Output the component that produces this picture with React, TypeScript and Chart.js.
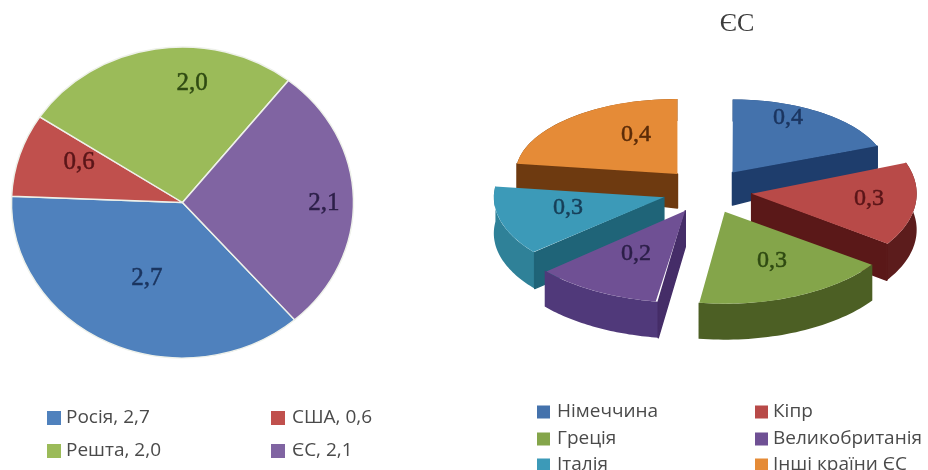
import React, { useEffect, useRef } from "react";
import { Chart, registerables } from "chart.js";

Chart.register(...registerables);

const worldLabels = ["Росія, 2,7", "США, 0,6", "Решта, 2,0", "ЄС, 2,1"];
const worldValues = [2.74, 0.64, 1.95, 2.07];
const worldValueText = ["2,7", "0,6", "2,0", "2,1"];
const worldColors = ["#4f81bd", "#c0504d", "#9bbb59", "#8064a2"];
const worldInk = ["#1b3560", "#5a1518", "#2f4a12", "#2c1f48"];
const worldLabelAnchors = [[-0.208, 0.447], [-0.605, -0.237], [0.056, -0.699], [0.827, 0.003]];

const euTitle = "ЄС";
const euLabels = ["Німеччина", "Кіпр", "Греція", "Великобританія", "Італія", "Інші країни ЄС"];
const euValues = [0.37, 0.3, 0.34, 0.22, 0.26, 0.44];
const euValueText = ["0,4", "0,3", "0,3", "0,2", "0,3", "0,4"];
const euColors = ["#4472ac", "#b84a48", "#84a54a", "#6f5094", "#3c9ab8", "#e58b37"];
const euOuterWalls = ["#2a4f80", "#5c1c1c", "#4c5f24", "#50397a", "#2f8198", "#7a4210"];
const euInnerWalls = ["#1e3d6c", "#5a1818", "#3f5020", "#452d68", "#1f6478", "#6e3a10"];
const euInk = ["#1b3560", "#5a1518", "#2f4a12", "#2c1f48", "#173f58", "#5c2c08"];
const euLabelAnchors = [[0.497, -0.448], [0.994, 0.049], [0.399, 0.429], [-0.436, 0.387], [-0.853, 0.104], [-0.436, -0.344]];
const euOffset = 180;
const euTilt = 0.5;
const euRimX = [155, 165, 180, 185, 170, 162];
const euRimY = [73, 88, 92, 92, 85, 75];

type LegendGrid = { xs: number[]; textXs: number[]; ys: number[]; box: number; font: string };

const ellipsePlugin = (k: number) => ({
  id: "ellipse",
  beforeDatasetsDraw(chart: any) {
    const arc = chart.getDatasetMeta(0).data[0];
    const ctx = chart.ctx;
    ctx.save();
    ctx.translate(arc.x, arc.y);
    ctx.scale(1, k);
    ctx.translate(-arc.x, -arc.y);
  },
  afterDatasetsDraw(chart: any) {
    chart.ctx.restore();
  },
});

const sliceGeometry = (a: any, i: number) => {
  const circ = a.endAngle - a.startAngle;
  const mid = (a.startAngle + a.endAngle) / 2;
  const off = euOffset / 4;
  const fix = 1 - Math.sin(Math.min(Math.PI, circ));
  const R = a.outerRadius + off * fix;
  const ax = a.x + Math.cos(mid) * off;
  const ay = a.y + Math.sin(mid) * off;
  const screenY = a.y + (ay - a.y) * euTilt;
  return { circ, mid, R, ax, ay, screenY, rx: euRimX[i], ry: euRimY[i] };
};

const depth = (y: number) => (y < 160 ? 22 : Math.min(36, 22 + (y - 160) * 0.85));

const tiltedSlicesPlugin = {
  id: "tiltedSlices",
  beforeDatasetsDraw(chart: any) {
    const ctx = chart.ctx;
    const arcs = chart.getDatasetMeta(0).data;
    const order = [5, 0, 4, 1, 3, 2];
    for (const i of order) {
      const a = arcs[i];
      const g = sliceGeometry(a, i);
      const pt = (t: number) => [g.ax + Math.cos(t) * g.rx, g.screenY + Math.sin(t) * g.ry];
      const apex = [g.ax, g.screenY];
      const steps = 40;
      const top: number[][] = [];
      for (let s = 0; s <= steps; s++) top.push(pt(a.startAngle + (g.circ * s) / steps));
      ctx.fillStyle = euOuterWalls[i];
      ctx.beginPath();
      top.forEach((p, n) => (n ? ctx.lineTo(p[0], p[1]) : ctx.moveTo(p[0], p[1])));
      [...top].reverse().forEach((p) => ctx.lineTo(p[0], p[1] + depth(p[1])));
      ctx.closePath();
      ctx.fill();
      const m = [Math.cos(g.mid) * g.rx, Math.sin(g.mid) * g.ry];
      for (const p of [top[0], top[steps]]) {
        const e = [p[0] - apex[0], p[1] - apex[1]];
        const downSide = e[0];
        const midSide = e[0] * m[1] - e[1] * m[0];
        if (downSide * midSide > 0 || Math.abs(downSide) < 3) continue;
        ctx.fillStyle = euInnerWalls[i];
        ctx.strokeStyle = euInnerWalls[i];
        ctx.lineWidth = 1.5;
        ctx.lineJoin = "round";
        ctx.beginPath();
        ctx.moveTo(apex[0], apex[1]);
        ctx.lineTo(p[0], p[1]);
        ctx.lineTo(p[0], p[1] + depth(p[1]));
        ctx.lineTo(apex[0], apex[1] + depth(apex[1]));
        ctx.closePath();
        ctx.fill();
        ctx.stroke();
      }
      if (!a.__tilted) {
        a.__tilted = true;
        const original = a.draw.bind(a);
        a.draw = (c: any, area: any) => {
          c.save();
          c.translate(g.ax, g.screenY);
          c.scale(g.rx / g.R, g.ry / g.R);
          c.translate(-g.ax, -g.ay);
          original(c, area);
          c.restore();
        };
      }
    }
  },
};

const valueTextPlugin = (texts: string[], inks: string[], anchors: number[][], reach: number, font: string) => ({
  id: "valueText",
  afterDraw(chart: any) {
    const ctx = chart.ctx;
    const arc = chart.getDatasetMeta(0).data[0];
    ctx.save();
    ctx.font = font;
    ctx.textAlign = "center";
    ctx.textBaseline = "middle";
    ctx.lineWidth = 0.5;
    texts.forEach((t, i) => {
      ctx.fillStyle = inks[i];
      ctx.strokeStyle = inks[i];
      ctx.fillText(t, arc.x + anchors[i][0] * reach, arc.y + anchors[i][1] * reach);
      ctx.strokeText(t, arc.x + anchors[i][0] * reach, arc.y + anchors[i][1] * reach);
    });
    ctx.restore();
  },
});

const gridLegendPlugin = (labels: string[], colors: string[], grid: LegendGrid) => ({
  id: "gridLegend",
  afterDraw(chart: any) {
    const ctx = chart.ctx;
    ctx.save();
    ctx.font = grid.font;
    ctx.textBaseline = "middle";
    ctx.textAlign = "left";
    labels.forEach((label, i) => {
      const col = i % 2;
      const y = grid.ys[Math.floor(i / 2)];
      ctx.fillStyle = colors[i];
      ctx.fillRect(grid.xs[col], y - grid.box / 2, grid.box, grid.box);
      ctx.fillStyle = "#4a4a4a";
      ctx.fillText(label, grid.textXs[col], y);
    });
    ctx.restore();
  },
});

const titlePlugin = {
  id: "euTitle",
  afterDraw(chart: any) {
    const ctx = chart.ctx;
    ctx.save();
    ctx.font = '26px "Liberation Serif"';
    ctx.fillStyle = "#3c3c3c";
    ctx.textAlign = "center";
    ctx.textBaseline = "middle";
    ctx.fillText(euTitle, chart.width - 191, 24);
    ctx.restore();
  },
};

export default function App() {
  const leftRef = useRef<HTMLCanvasElement>(null);
  const rightRef = useRef<HTMLCanvasElement>(null);

  useEffect(() => {
    const left = new Chart(leftRef.current!, {
      type: "pie",
      data: {
        labels: worldLabels,
        datasets: [{
          data: worldValues,
          backgroundColor: worldColors,
          borderColor: "#eef1ea",
          borderWidth: 1.5,
          clip: false,
        } as any],
      },
      options: {
        responsive: false,
        animation: false,
        events: [],
        rotation: 139,
        radius: 171,
        layout: { padding: { right: 99, bottom: 65 } },
        plugins: { legend: { display: false }, tooltip: { enabled: false } },
      } as any,
      plugins: [
        ellipsePlugin(155.5 / 171),
        valueTextPlugin(worldValueText, worldInk, worldLabelAnchors, 171, '25px "Liberation Serif"'),
        gridLegendPlugin(worldLabels, worldColors, {
          xs: [47, 271], textXs: [66, 292], ys: [418, 451], box: 14, font: '500 19px "Open Sans"',
        }),
      ],
    });

    const right = new Chart(rightRef.current!, {
      type: "pie",
      data: {
        labels: euLabels,
        datasets: [{
          data: euValues,
          backgroundColor: euColors,
          borderWidth: 0,
          offset: euOffset,
          clip: false,
        } as any],
      },
      options: {
        responsive: false,
        animation: false,
        events: [],
        rotation: 0,
        radius: 163,
        layout: { padding: { left: 22, bottom: 88 } },
        plugins: { legend: { display: false }, tooltip: { enabled: false } },
      } as any,
      plugins: [
        tiltedSlicesPlugin,
        valueTextPlugin(euValueText, euInk, euLabelAnchors, 163, '24px "Liberation Serif"'),
        gridLegendPlugin(euLabels, euColors, {
          xs: [73, 291], textXs: [93, 309], ys: [412, 439, 465], box: 13, font: '19px "Open Sans"',
        }),
        titlePlugin,
      ],
    });

    return () => {
      left.destroy();
      right.destroy();
    };
  }, []);

  return (
    <div style={{ position: "fixed", left: 0, top: 0, width: 928, height: 470, background: "#fff", overflow: "hidden", filter: "blur(0.7px)" }}>
      <canvas ref={leftRef} width={464} height={470} style={{ position: "absolute", left: 0, top: 0 }} />
      <canvas ref={rightRef} width={464} height={470} style={{ position: "absolute", left: 464, top: 0 }} />
    </div>
  );
}
